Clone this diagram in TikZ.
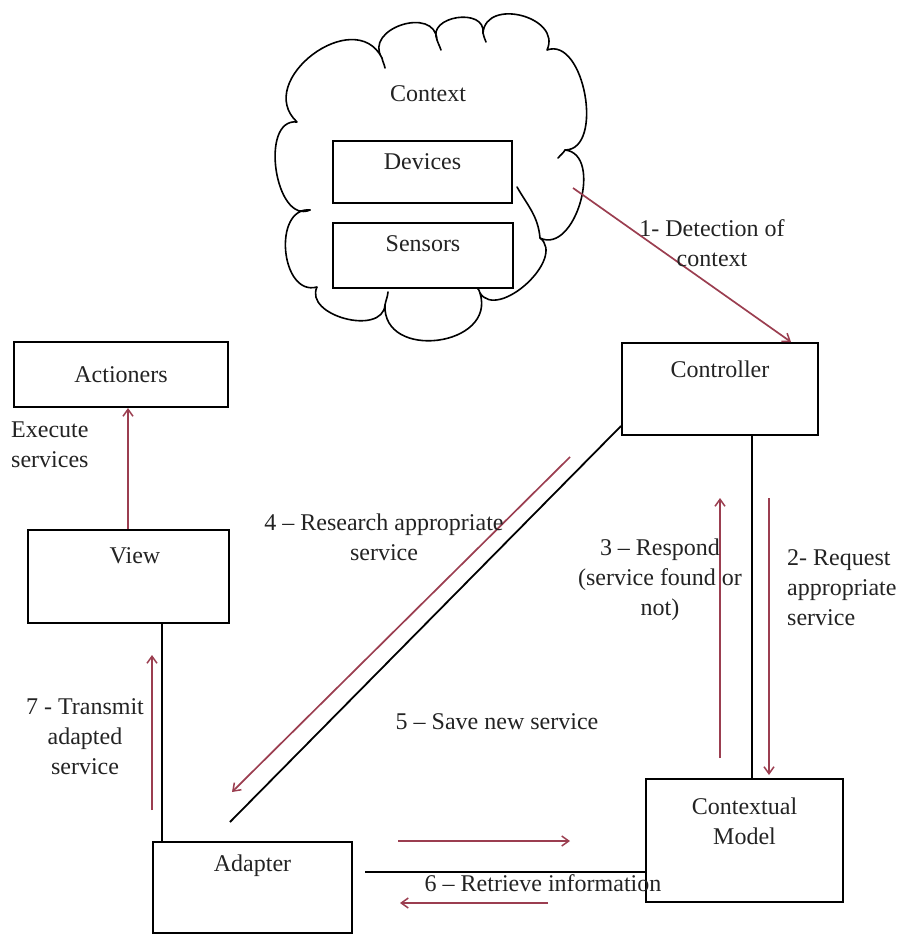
\documentclass[tikz,border=0pt]{standalone}
\usepackage{fontspec}
\setmainfont{Liberation Serif}
\usetikzlibrary{arrows.meta}
\definecolor{arrred}{RGB}{155,62,80}
\definecolor{inkc}{RGB}{35,35,35}
\begin{document}
\begin{tikzpicture}[x=1pt,y=-1pt,
  box/.style={draw=black, line width=2pt, inner sep=0pt, fill=white},
  txt/.style={font=\fontsize{24}{30}\selectfont, text=inkc, inner sep=0pt, align=center},
  redarr/.style={draw=arrred, line width=1.7pt, -{Straight Barb[length=7pt,width=10pt,line width=1.5pt]}},
  link/.style={draw=black, line width=1.8pt},
  cloudline/.style={line width=1.6pt, line join=round, line cap=round}]
\useasboundingbox (0,0) rectangle (908,936);

% cloud
\draw[cloudline]
  (310,210) to[bend left=105, looseness=1.1] (297,122)
            to[bend left=100, looseness=1.45] (382,58)
            to[bend left=105, looseness=1.55] (437,40)
            to[bend left=105, looseness=1.45] (483,33)
            to[bend left=100, looseness=1.4] (547,50)
            to[bend left=100, looseness=1.0] (565,150)
            to[bend left=100, looseness=1.1] (540,238)
            to[bend left=100, looseness=1.05] (480,293)
            to[bend left=100, looseness=1.5] (385,305)
            to[bend left=100, looseness=1.15] (317,287)
            to[bend left=100, looseness=1.25] cycle;
% inner tails of the cloud
\draw[cloudline] (540,238) to[out=95, in=-60] (517,187);
\draw[cloudline] (565,150) to[out=-120, in=50] (558,158);
\draw[cloudline] (385,305) to[out=80, in=-95] (388,292);
\draw[cloudline] (382,58) to[out=-80, in=100] (385,68);
\draw[cloudline] (437,40) to[out=-70, in=110] (441,50);
\draw[cloudline] (483,33) to[out=-80, in=110] (486,42);
\draw[cloudline] (480,293) to[out=100, in=-60] (473,283);
\draw[cloudline] (310,210) to[out=180, in=0] (300,211);
\node[txt] (ctx) at (428,94) {Context};

% boxes
\node[box, minimum width=179pt, minimum height=62pt] (dev) at (422.5,172) {};
\node[txt] (devT) at ([yshift=-22pt]dev.north) {Devices};
\node[box, minimum width=180pt, minimum height=65pt] (sen) at (423,255.5) {};
\node[txt] (senT) at ([yshift=-22pt]sen.north) {Sensors};
\node[box, minimum width=214pt, minimum height=65pt] (act) at (121,374.5) {};
\node[txt] (actT) at (act.center) {Actioners};
\node[box, minimum width=196pt, minimum height=92pt] (ctrl) at (720,389) {};
\node[txt] (ctrlT) at ([yshift=-27pt]ctrl.north) {Controller};
\node[box, minimum width=201pt, minimum height=93pt] (view) at (128,576.5) {};
\node[txt] (viewT) at ([xshift=7pt,yshift=-27pt]view.north) {View};
\node[box, minimum width=199pt, minimum height=91pt] (adap) at (252.5,887.5) {};
\node[txt] (adapT) at ([yshift=-25pt]adap.north) {Adapter};
\node[box, minimum width=197pt, minimum height=123pt] (cm) at (744.5,840.5) {};
\node[txt] (cmT) at ([yshift=-43pt]cm.north) {Contextual\\Model};

% free ends
\coordinate (c1) at (573,188);
\coordinate (d1) at (230,822);
\coordinate (r4s) at (570,457);
\coordinate (r4e) at (232,792);
\coordinate (r7s) at (152,810);
\coordinate (r7e) at (152,655);
\coordinate (r3s) at (720,758);
\coordinate (r3e) at (720,498);
\coordinate (r2s) at (769,498);
\coordinate (r2e) at (769,775);
\coordinate (r5s) at (398,841);
\coordinate (r5e) at (570,841);
\coordinate (r6s) at (548,903);
\coordinate (r6e) at (400,903);
\coordinate (l6s) at (365,872);

% black links
\draw[link] ([xshift=34pt]view.south) -- ([xshift=34pt]view.south |- adap.north);
\draw[link] ([yshift=10pt]ctrl.south west) -- (d1);
\draw[link] ([xshift=32pt]ctrl.south) -- ([xshift=32pt]ctrl.south |- cm.north);
\draw[link] (l6s) -- (l6s -| cm.west);

% red arrows
\draw[redarr] (c1) -- ([xshift=-28pt]ctrl.north east);
\draw[redarr] (view.north) -- (view.north |- act.south);
\draw[redarr] (r4s) -- (r4e);
\draw[redarr] (r7s) -- (r7e);
\draw[redarr] (r3s) -- (r3e);
\draw[redarr] (r2s) -- (r2e);
\draw[redarr] (r5s) -- (r5e);
\draw[redarr] (r6s) -- (r6e);

% labels
\node[txt] (l1) at (712,243) {1- Detection of\\context};
\node[txt, align=left, anchor=west] (lex) at (11,444.5) {Execute\\services};
\node[txt] (l4) at (384,537) {4 -- Research appropriate\\service};
\node[txt] (l3) at (660,580) {3 -- Respond\\(service found or\\not)};
\node[txt, align=left, anchor=west] (l2) at (787,588) {2- Request\\appropriate\\service};
\node[txt] (l7) at (85,737) {7 - Transmit\\adapted\\service};
\node[txt] (l5) at (497,722) {5 -- Save new service};
\node[txt] (l6) at (543,883) {6 -- Retrieve information};
\end{tikzpicture}
\end{document}
